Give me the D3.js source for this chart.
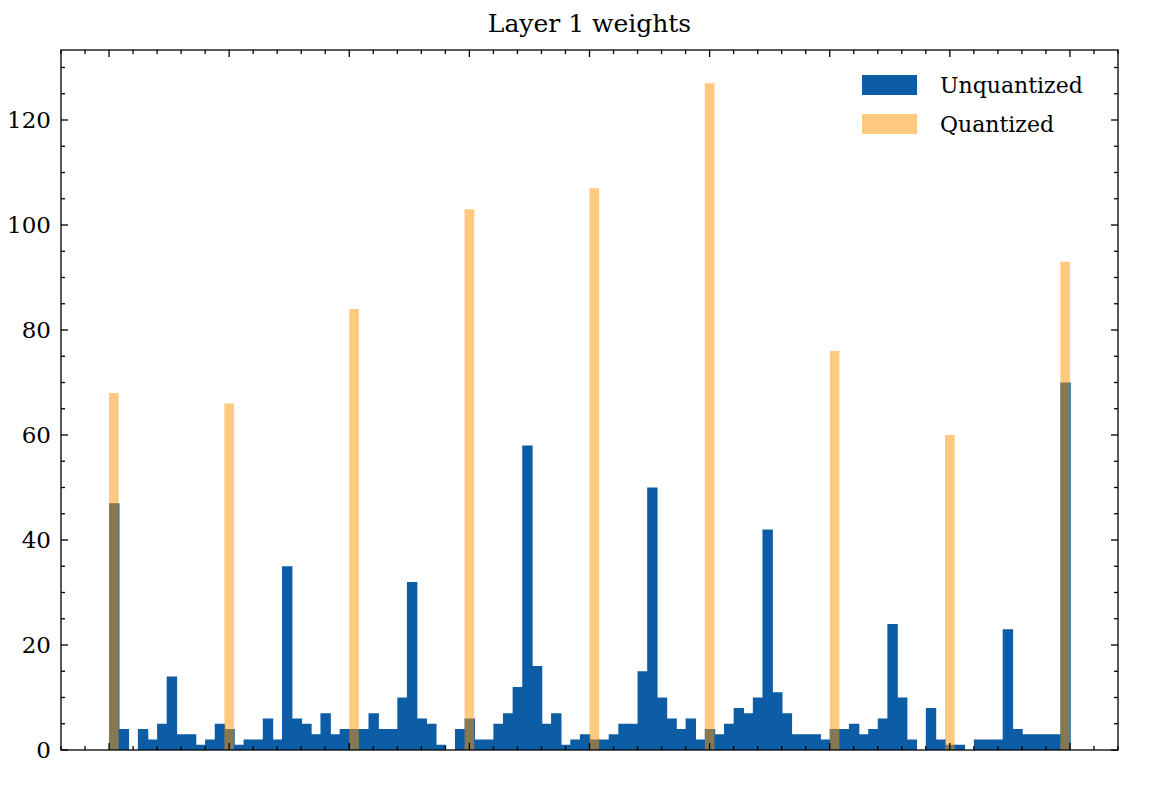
<!DOCTYPE html>
<html><head><meta charset="utf-8">
<script src="https://cdn.jsdelivr.net/npm/d3@7"></script>
<style>body{margin:0;background:#fff}text{font-family:"DejaVu Serif",serif}</style>
</head><body><svg id="c" width="1152" height="785"></svg>
<script>
const unquantized=[47,4,0,4,2,5,14,3,3,1,2,5,4,1,2,2,6,2,35,6,5,3,7,3,4,4,4,7,4,4,10,32,6,5,1,0,4,6,2,2,5,7,12,58,16,5,7,1,2,3,2,2,3,5,5,15,50,10,6,4,6,2,4,3,5,8,7,10,42,11,7,3,3,3,2,4,4,5,3,4,6,24,10,2,0,8,2,1,1,0,2,2,2,23,4,3,3,3,3,70];
const quantBins=[0,12,25,37,50,62,75,87,99];
const quantized=[68,66,84,103,107,127,76,60,93];
const yTicks=[0,20,40,60,80,100,120];
const binStart=-1, binW=0.02;

const svg=d3.select("#c");
const L=61,R=1118,T=50,B=750;
const x=d3.scaleLinear().domain([-1.1,1.1]).range([L,R]);
const y=d3.scaleLinear().domain([0,700/5.25]).range([B,T]);

svg.append("g").selectAll("rect").data(unquantized).join("rect")
 .attr("x",(d,i)=>x(binStart+i*binW)).attr("width",(d,i)=>x(binStart+(i+1)*binW)-x(binStart+i*binW)+0.8)
 .attr("y",d=>y(d)).attr("height",d=>y(0)-y(d)).attr("fill","#0C5DA5");
svg.append("g").selectAll("rect").data(quantized).join("rect")
 .attr("x",(d,i)=>x(binStart+quantBins[i]*binW)).attr("width",x(binW)-x(0))
 .attr("y",d=>y(d)).attr("height",d=>y(0)-y(d)).attr("fill","#FF9500").attr("fill-opacity",0.5);

const xMaj=d3.range(-1,1.001,0.25), xMin=d3.range(-1.1,1.1001,0.05).filter(v=>!xMaj.some(m=>Math.abs(m-v)<1e-6));
const yMin=d3.range(0,134,5).filter(v=>v%20!==0);
const g=svg.append("g").attr("stroke","#000").attr("stroke-width",1.3);
xMaj.forEach(v=>{g.append("line").attr("x1",x(v)).attr("x2",x(v)).attr("y1",B).attr("y2",B-7);g.append("line").attr("x1",x(v)).attr("x2",x(v)).attr("y1",T).attr("y2",T+7);});
xMin.forEach(v=>{g.append("line").attr("x1",x(v)).attr("x2",x(v)).attr("y1",B).attr("y2",B-4);g.append("line").attr("x1",x(v)).attr("x2",x(v)).attr("y1",T).attr("y2",T+4);});
yTicks.forEach(v=>{g.append("line").attr("x1",L).attr("x2",L+7).attr("y1",y(v)).attr("y2",y(v));g.append("line").attr("x1",R).attr("x2",R-7).attr("y1",y(v)).attr("y2",y(v));});
yMin.forEach(v=>{g.append("line").attr("x1",L).attr("x2",L+4).attr("y1",y(v)).attr("y2",y(v));g.append("line").attr("x1",R).attr("x2",R-4).attr("y1",y(v)).attr("y2",y(v));});
svg.append("rect").attr("x",L).attr("y",T).attr("width",R-L).attr("height",B-T).attr("fill","none").attr("stroke","#000").attr("stroke-width",1.3);
svg.append("g").selectAll("text").data(yTicks).join("text")
 .attr("x",L-10).attr("y",d=>y(d)).attr("dy","0.35em").attr("text-anchor","end").attr("font-size",23).text(d=>d);
svg.append("text").attr("x",(L+R)/2).attr("y",32).attr("text-anchor","middle").attr("font-size",25).text("Layer 1 weights");
const leg=[["Unquantized","#0C5DA5",1],["Quantized","#FF9500",0.5]];
leg.forEach((l,i)=>{
 svg.append("rect").attr("x",862).attr("y",75+i*39).attr("width",55).attr("height",20).attr("fill",l[1]).attr("fill-opacity",l[2]);
 svg.append("text").attr("x",940).attr("y",85+i*39).attr("dy","0.35em").attr("font-size",22).text(l[0]);
});
</script></body></html>
